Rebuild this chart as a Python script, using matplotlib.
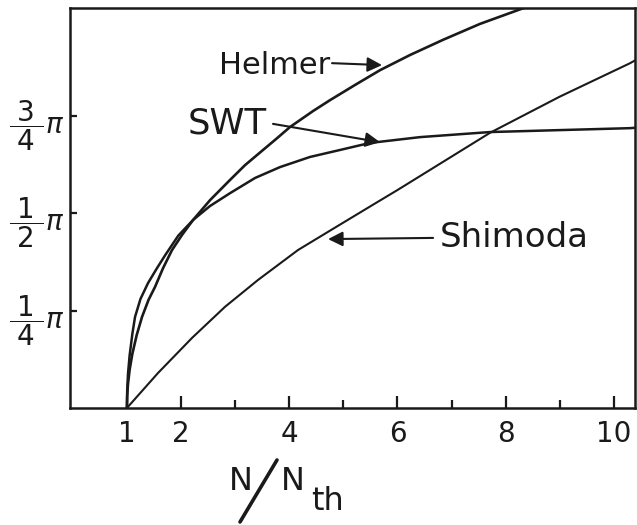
import matplotlib
matplotlib.use("Agg")
import matplotlib.pyplot as plt
from matplotlib.lines import Line2D

# ---- data (y in units of pi) ----
helmer_x = [1.0, 1.005, 1.02, 1.05, 1.1, 1.18, 1.279, 1.4, 1.519, 1.67, 1.834, 2.02, 2.222,
            2.536, 2.906, 3.183, 3.516, 3.756, 4.015, 4.44, 4.754, 5.216, 5.678, 6.233,
            6.843, 7.527, 8.34]
helmer_y = [0.0, 0.031, 0.062, 0.098, 0.139, 0.187, 0.234, 0.278, 0.311, 0.36, 0.406, 0.445, 0.483,
            0.534, 0.586, 0.624, 0.663, 0.691, 0.722, 0.763, 0.791, 0.830, 0.868, 0.907,
            0.946, 0.987, 1.028]

swt_x = [1.0, 1.005, 1.02, 1.05, 1.1, 1.15, 1.25, 1.39, 1.55, 1.704, 1.95, 2.222, 2.536,
         2.906, 3.368, 3.83, 4.384, 4.94, 5.49, 6.42, 7.71, 9.0, 10.30, 10.39]
swt_y = [0.0, 0.045, 0.088, 0.135, 0.19, 0.234, 0.28, 0.321, 0.358, 0.392, 0.443, 0.483, 0.519,
         0.552, 0.591, 0.619, 0.645, 0.663, 0.681, 0.696, 0.709, 0.714, 0.719, 0.72]

shimoda_x = [1.0, 1.575, 2.203, 2.813, 3.423, 4.163, 4.9, 5.64, 6.0, 7.71, 9.0, 10.30, 10.39]
shimoda_y = [0.0, 0.090, 0.180, 0.260, 0.329, 0.406, 0.468, 0.530, 0.560, 0.707, 0.800, 0.886, 0.893]

xtick_major = [1, 2, 4, 6, 8, 10]
xtick_minor = [3, 5, 7, 9]
ytick_vals = [0.25, 0.5, 0.75]
ytick_labels = [r"$\dfrac{\;1\;}{\;4\;}\pi$", r"$\dfrac{\;1\;}{\;2\;}\pi$", r"$\dfrac{\;3\;}{\;4\;}\pi$"]

plt.rcParams['font.family'] = ['DejaVu Sans']
plt.rcParams['mathtext.fontset'] = 'dejavusans'

W, H = 637, 525
fig = plt.figure(figsize=(W / 100, H / 100), dpi=100)
ax = fig.add_axes([70 / W, 1 - 408 / H, (635 - 70) / W, (408 - 7.5) / H])

ink = '#1a1a1a'
ax.plot(helmer_x, helmer_y, color=ink, lw=1.9, solid_capstyle='round', solid_joinstyle='round')
ax.plot(swt_x, swt_y, color=ink, lw=1.8, solid_capstyle='round', solid_joinstyle='round')
ax.plot(shimoda_x, shimoda_y, color=ink, lw=1.5, solid_capstyle='round', solid_joinstyle='round')

ax.set_xlim(-0.052, 10.39)
ax.set_ylim(0, 1.029)

for s in ax.spines.values():
    s.set_linewidth(1.8)
    s.set_color(ink)

ax.set_xticks(xtick_major)
ax.set_xticklabels([str(v) for v in xtick_major])
ax.set_xticks(xtick_minor, minor=True)
ax.tick_params(axis='x', which='major', direction='in', length=9, width=1.6,
               labelsize=20, pad=9, colors=ink)
ax.tick_params(axis='x', which='minor', direction='in', length=6, width=1.6, colors=ink)
ax.xaxis.get_major_ticks()[0].tick1line.set_visible(False)

ax.set_yticks(ytick_vals)
ax.set_yticklabels(ytick_labels)
ax.tick_params(axis='y', which='major', direction='in', length=5, width=1.6,
               labelsize=20, pad=4, colors=ink)

# annotations
arrow = dict(arrowstyle='-|>', mutation_scale=22, lw=1.5, color=ink, shrinkA=0, shrinkB=0)
ax.text(4.75, 0.881, "Helmer", fontsize=22, color=ink, ha='right', va='center')
ax.annotate("", xy=(5.715, 0.881), xytext=(4.791, 0.886), arrowprops=arrow)
ax.text(2.13, 0.732, "SWT", fontsize=25.5, color=ink, ha='left', va='center')
ax.annotate("", xy=(5.678, 0.683), xytext=(3.70, 0.730), arrowprops=arrow)
ax.text(6.787, 0.437, "Shimoda", fontsize=24.5, color=ink, ha='left', va='center')
ax.annotate("", xy=(4.717, 0.434), xytext=(6.658, 0.437), arrowprops=arrow)

# x-axis label N / N_th
def fx(px):
    return px / W

def fy(py):
    return 1 - py / H

fig.text(fx(241), fy(481), "N", fontsize=23, color=ink, ha='center', va='center')
fig.add_artist(Line2D([fx(240), fx(277)], [fy(522), fy(460)], color=ink, lw=2.6,
                      solid_capstyle='round'))
fig.text(fx(293), fy(481), "N", fontsize=23, color=ink, ha='center', va='center')
fig.text(fx(328), fy(501), "th", fontsize=23, color=ink, ha='center', va='center')

fig.savefig("out.png", dpi=100)
